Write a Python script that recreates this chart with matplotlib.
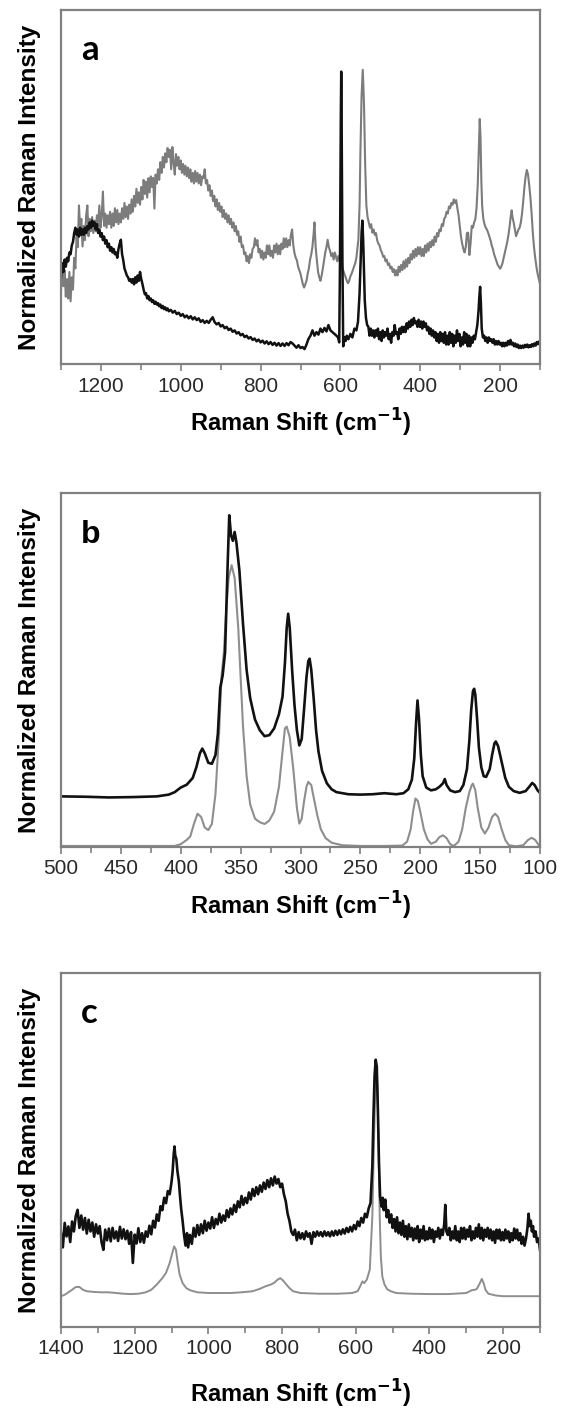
import numpy as np
import matplotlib
matplotlib.use("Agg")
import matplotlib.pyplot as plt
from matplotlib.ticker import MultipleLocator

plt.rcParams['font.family'] = ['Liberation Sans', 'DejaVu Sans']

# spectra as (raman shift, normalized intensity) pairs
# panel a - grey spectrum
a_grey = [(1300,20.6),(1297,28.0),(1294,22.0),(1291,26.5),(1288,19.0),(1285,24.0),(1282,18.5),(1279,26.0),(1276,17.7),(1273,24.5),
          (1270,21.0),(1267,30.0),(1264,27.0),(1261,36.0),(1258,33.0),(1255,44.8),(1252,38.0),(1249,41.0),(1246,33.2),(1243,39.0),
          (1240,35.0),(1237,42.0),(1234,44.8),(1231,36.1),(1228,41.0),(1225,37.5),(1222,41.5),(1219,37.0),(1216,40.5),(1213,37.5),
          (1210,42.0),(1207,39.0),(1204,44.8),(1201,38.5),(1198,42.0),(1195,48.7),(1192,39.0),(1189,42.5),(1186,38.5),(1183,42.0),
          (1180,39.5),(1177,43.0),(1174,38.5),(1171,42.5),(1168,39.0),(1165,44.0),(1162,40.0),(1159,43.5),(1156,39.5),(1153,42.5),
          (1150,40.0),(1147,44.0),(1144,41.0),(1141,45.5),(1138,41.5),(1135,44.5),(1132,41.0),(1129,45.0),(1126,42.5),(1123,46.5),
          (1120,43.0),(1117,47.5),(1114,44.5),(1111,49.5),(1108,45.5),(1105,48.5),(1102,45.0),(1099,50.0),(1096,46.5),(1093,52.0),
          (1090,48.0),(1087,51.5),(1084,47.0),(1081,52.5),(1078,48.5),(1075,53.0),(1072,50.0),(1069,52.6),(1066,43.9),(1063,53.5),
          (1060,51.0),(1057,55.0),(1054,52.0),(1051,57.0),(1048,54.0),(1045,58.5),(1042,55.5),(1039,59.5),(1036,57.0),(1033,61.0),
          (1030,58.5),(1027,60.5),(1024,55.0),(1021,61.3),(1018,57.0),(1015,53.5),(1012,59.3),(1009,56.0),(1006,58.5),(1003,55.0),
          (1000,57.5),(997,54.0),(994,56.5),(991,53.5),(988,56.0),(985,53.0),(982,55.5),(979,52.5),(976,55.0),(973,51.5),
          (970,54.0),(967,51.0),(964,54.5),(961,51.5),(958,54.0),(955,51.0),(952,53.5),(949,50.5),(946,53.0),(943,52.5),
          (940,55.0),(937,51.0),(934,52.0),(931,49.0),(928,50.5),(925,47.5),(922,49.0),(919,46.0),(916,47.5),(913,44.5),
          (910,46.5),(907,43.5),(904,45.5),(901,43.0),(898,44.5),(895,41.5),(892,43.5),(889,41.0),(886,42.5),(883,40.0),
          (880,42.0),(877,39.5),(874,41.0),(871,38.5),(868,40.0),(865,37.5),(862,39.0),(859,36.5),(856,37.5),(853,34.5),
          (850,36.0),(847,33.0),(844,33.5),(841,31.0),(838,31.5),(835,29.0),(832,30.5),(829,28.5),(826,31.0),(823,30.0),
          (820,32.5),(817,33.0),(814,35.5),(811,33.5),(808,35.0),(805,31.5),(802,32.5),(799,30.0),(796,32.0),(793,29.5),
          (790,31.5),(787,30.0),(784,33.5),(781,31.0),(778,33.5),(775,30.5),(772,32.0),(769,30.0),(766,33.5),(763,31.5),
          (760,34.0),(757,31.0),(754,33.5),(751,31.0),(748,34.0),(745,32.5),(742,35.5),(739,33.0),(736,35.5),(733,33.0),
          (730,35.0),(727,33.5),(724,36.5),(721,38.0),(718,33.5),(715,31.3),(712,30.0),(709,29.3),(706,27.5),(703,26.5),
          (700,25.5),(697,24.0),(694,22.5),(691,21.6),(688,22.5),(685,23.5),(682,25.5),(679,27.0),(676,29.5),(673,31.0),
          (670,33.2),(667,37.0),(665,40.0),(662,33.0),(659,29.3),(656,26.0),(653,24.5),(650,23.5),(647,25.0),(644,27.0),
          (641,29.3),(638,31.5),(635,33.0),(632,35.1),(629,33.0),(626,32.0),(623,30.5),(620,31.3),(617,29.5),(614,31.5),
          (611,30.3),(608,29.0),(605,30.5),(602,29.3),(599,28.0),(596,27.5),(593,26.4),(590,25.5),(587,24.5),(584,23.5),
          (581,22.8),(578,23.5),(575,24.8),(572,25.5),(569,26.5),(566,27.5),(563,28.4),(560,30.0),(557,33.0),(555,35.1),
          (552,45.0),(550,59.3),(547,75.8),(544,83.1),(541,73.9),(538,56.4),(535,44.8),(532,41.5),(529,40.0),(526,38.5),
          (523,39.5),(520,37.1),(517,38.0),(514,36.5),(511,37.0),(508,35.0),(505,34.0),(502,33.5),(499,32.2),(496,31.5),
          (493,30.3),(490,30.5),(487,29.0),(484,29.5),(481,28.0),(478,28.4),(475,27.0),(472,27.5),(469,26.0),(466,26.8),
          (463,25.0),(460,26.5),(457,25.0),(454,27.5),(451,26.0),(448,28.0),(445,26.5),(442,29.0),(439,27.0),(436,29.5),
          (433,27.5),(430,30.0),(427,28.5),(424,31.0),(421,29.5),(418,32.0),(415,30.0),(412,32.5),(409,30.5),(406,33.0),
          (403,31.0),(400,33.0),(397,30.5),(394,32.5),(391,30.5),(388,33.5),(385,31.5),(382,34.0),(379,32.0),(376,34.5),
          (373,33.0),(370,35.0),(367,33.5),(364,36.0),(361,34.5),(358,37.0),(355,36.0),(352,38.0),(349,37.5),(346,39.5),
          (343,39.0),(340,41.0),(337,41.5),(334,43.0),(331,42.5),(328,44.5),(325,44.0),(322,45.5),(319,45.0),(316,46.5),
          (313,45.5),(310,46.3),(307,44.0),(304,42.0),(301,39.0),(298,36.0),(295,34.0),(292,32.5),(289,31.5),(286,33.0),
          (283,37.0),(280,37.1),(277,30.8),(274,34.0),(271,39.0),(268,38.5),(265,40.0),(262,40.9),(259,44.0),(256,50.6),
          (253,62.0),(251,69.2),(249,64.0),(247,52.0),(245,44.8),(242,41.0),(239,39.5),(236,38.5),(233,38.0),(230,37.1),
          (227,36.0),(224,35.0),(221,33.5),(218,32.5),(215,31.0),(212,30.0),(209,29.0),(206,28.0),(203,27.5),(200,26.9),
          (197,27.5),(194,28.5),(191,30.0),(188,31.5),(185,33.0),(182,34.5),(179,36.5),(176,39.0),(173,42.0),(171,43.4),
          (169,41.5),(166,40.0),(163,38.0),(160,36.1),(157,37.0),(154,38.0),(151,38.5),(148,40.0),(145,42.5),(142,46.0),
          (139,50.0),(136,53.0),(133,54.8),(130,53.5),(127,50.5),(124,47.0),(121,42.5),(118,37.1),(115,33.0),(112,30.0),
          (109,27.5),(106,25.5),(103,24.0),(100,22.6)]

# panel a - black spectrum
a_black = [(1300,24.5),(1297,28.5),(1294,26.0),(1291,29.5),(1288,27.5),(1285,30.0),(1282,29.0),(1279,31.5),(1276,31.0),(1273,33.5),
           (1270,34.5),(1267,37.0),(1264,38.5),(1261,36.5),(1258,38.0),(1255,36.0),(1252,38.5),(1249,36.5),(1246,38.0),(1243,36.5),
           (1240,38.5),(1237,37.0),(1234,39.0),(1231,38.0),(1228,40.0),(1225,38.5),(1222,40.5),(1219,39.0),(1216,40.0),(1213,38.0),
           (1210,39.5),(1207,37.0),(1204,38.0),(1201,36.0),(1198,37.0),(1195,35.0),(1192,36.0),(1189,34.0),(1186,35.0),(1183,33.0),
           (1180,34.0),(1177,32.0),(1174,33.0),(1171,31.5),(1168,32.5),(1165,31.0),(1162,31.5),(1159,30.0),(1156,32.5),(1153,34.0),
           (1150,35.1),(1147,31.0),(1144,29.3),(1141,27.0),(1138,26.0),(1135,25.0),(1132,24.5),(1129,23.5),(1126,24.0),(1123,23.0),
           (1120,24.0),(1117,22.5),(1114,24.5),(1111,23.0),(1108,25.0),(1105,23.5),(1102,26.0),(1099,24.0),(1096,22.6),(1093,21.0),
           (1090,19.7),(1087,20.0),(1084,18.5),(1081,19.2),(1078,18.0),(1075,18.5),(1072,17.5),(1069,18.0),(1066,17.0),(1063,17.6),
           (1060,16.8),(1057,17.2),(1054,16.3),(1051,16.8),(1048,15.8),(1045,16.4),(1042,15.5),(1039,16.0),(1036,15.2),(1033,15.7),
           (1030,14.9),(1025,15.3),(1020,14.5),(1015,15.0),(1010,14.1),(1005,14.5),(1000,13.6),(995,14.1),(990,13.2),(985,13.7),
           (980,12.9),(975,13.5),(970,12.6),(965,13.2),(960,12.4),(955,12.9),(950,11.9),(945,12.4),(940,11.6),(935,12.2),
           (930,11.6),(925,12.5),(920,13.2),(915,11.8),(910,11.2),(905,11.6),(900,10.6),(895,11.0),(890,10.1),(885,10.5),
           (880,9.6),(875,10.0),(870,9.1),(865,9.5),(860,8.6),(855,9.0),(850,8.1),(845,8.5),(840,7.6),(835,8.0),
           (830,7.2),(825,7.6),(820,6.8),(815,7.2),(810,6.4),(805,6.9),(800,6.1),(795,6.6),(790,5.8),(785,6.4),
           (780,5.6),(775,6.2),(770,5.4),(765,6.0),(760,5.2),(755,5.9),(750,5.1),(745,5.8),(740,5.1),(735,5.9),
           (730,5.3),(725,6.2),(720,5.8),(715,5.2),(710,4.6),(705,5.3),(700,4.5),(695,4.8),(690,4.2),(685,5.5),
           (680,7.1),(675,8.0),(670,9.5),(665,8.0),(660,9.0),(655,8.3),(650,10.0),(645,9.0),(640,10.2),(635,9.2),
           (630,11.0),(625,9.5),(620,9.0),(615,8.5),(610,8.0),(606,7.5),(603,6.1),(601,30.0),(599,70.0),(598,82.6),
           (597,70.0),(595,30.0),(593,5.0),(590,7.5),(587,6.5),(584,8.0),(580,7.0),(575,8.5),(570,7.5),(565,10.0),
           (560,9.5),(556,11.9),(552,20.0),(549,30.0),(547,37.1),(545,40.5),(543,35.0),(541,27.0),(539,18.0),(536,13.0),
           (533,11.0),(530,10.5),(527,8.0),(524,10.0),(521,8.0),(518,9.5),(515,7.5),(512,9.5),(509,8.0),(506,10.0),
           (503,7.0),(500,9.0),(497,6.5),(494,9.5),(491,7.5),(488,9.0),(485,8.0),(482,10.0),(479,7.0),(476,8.5),
           (473,6.0),(470,9.0),(467,8.0),(464,11.0),(461,8.5),(458,9.0),(455,7.0),(452,10.0),(449,8.5),(446,10.5),
           (443,9.0),(440,10.5),(437,9.0),(434,11.5),(431,10.0),(428,12.0),(425,10.5),(422,12.5),(419,11.0),(416,13.0),
           (413,11.5),(410,12.0),(407,10.5),(404,12.5),(401,10.5),(398,12.0),(395,10.0),(392,12.0),(389,10.5),(386,11.5),
           (383,9.5),(380,10.5),(377,8.5),(374,10.0),(371,8.0),(368,9.5),(365,7.5),(362,9.0),(359,6.5),(356,8.5),
           (353,6.0),(350,9.0),(347,6.5),(344,8.5),(341,6.0),(338,9.0),(335,5.5),(332,8.0),(329,5.5),(326,9.0),
           (323,6.0),(320,8.5),(317,5.0),(314,8.0),(311,6.0),(308,9.5),(305,6.5),(302,8.5),(299,5.0),(296,7.5),
           (293,5.5),(290,9.0),(287,6.0),(284,8.5),(281,5.0),(278,8.0),(275,5.0),(272,7.5),(269,6.0),(266,8.0),
           (263,7.0),(260,9.0),(257,11.0),(254,15.0),(252,19.0),(250,21.8),(248,17.0),(246,10.0),(243,7.5),(240,8.0),
           (237,6.5),(234,7.5),(231,6.0),(228,7.5),(225,6.5),(222,7.0),(219,6.0),(216,7.0),(213,5.5),(210,6.5),
           (207,5.5),(204,6.5),(201,5.5),(198,6.0),(195,5.0),(192,6.0),(189,5.0),(186,6.0),(183,5.2),(180,6.5),
           (177,5.5),(174,6.8),(171,5.5),(168,6.0),(165,5.0),(162,5.8),(159,4.8),(156,5.5),(153,4.5),(150,5.2),
           (147,4.5),(144,5.2),(141,4.6),(138,5.4),(135,4.8),(132,5.5),(129,4.7),(126,5.3),(123,4.8),(120,5.6),
           (117,5.0),(114,5.8),(111,5.2),(108,6.2),(105,5.6),(102,6.4),(100,6.3)]

# panel b - black spectrum
b_black = [(500,14.3),(480,14.2),(460,14.0),(440,14.1),(420,14.3),(410,14.8),(405,15.5),(400,16.8),(395,17.6),(390,19.5),
           (387,22.5),(384,26.5),(382,27.8),(380,26.5),(377,23.8),(374,23.5),(371,26.0),(369,32.0),(367,45.0),(365,48.5),
           (363,55.0),(361,78.0),(359.5,93.7),(358,88.0),(356.5,86.5),(355,89.0),(353.5,86.0),(351,78.0),(348,63.0),(345,50.0),
           (342,42.0),(338,36.0),(334,33.0),(330,31.3),(326,31.6),(322,33.5),(318,37.5),(315,42.5),(313,52.0),(311.5,62.0),
           (310.3,65.9),(309,62.0),(307,50.0),(305,40.0),(303,33.0),(301,28.7),(299,30.5),(297,39.0),(295,48.0),(293.5,52.5),
           (292.4,53.2),(291,50.0),(289,42.0),(287,33.0),(285,27.0),(282,21.5),(278,18.0),(274,16.3),(270,15.5),(260,14.9),
           (250,14.8),(240,14.9),(230,15.2),(220,14.9),(214,15.2),(210,16.3),(207,19.0),(205,25.0),(203.5,35.0),(202.3,41.4),
           (201,36.0),(199.5,26.0),(198,20.0),(195,16.8),(191,16.0),(187,16.3),(184,17.0),(181,18.0),(179.5,19.2),(178,17.5),
           (175,16.0),(171,15.5),(167,15.8),(164,17.5),(161,22.0),(159,30.0),(157.5,38.5),(156,44.0),(155,44.7),(154,43.0),
           (152.5,36.0),(151,28.0),(149,22.5),(147,20.0),(145,19.8),(142,22.0),(140,26.0),(138,29.3),(136.9,29.8),(135,28.5),
           (132,24.0),(129,19.5),(126,17.0),(122,15.8),(117,15.3),(112,15.8),(109,17.0),(106.5,18.1),(104.5,17.5),(102,16.0),
           (100,15.3)]

# panel b - grey spectrum
b_grey = [(500,0.3),(450,0.3),(405,0.3),(400,0.8),(395,2.0),(392,3.0),(389,6.5),(386,9.4),(383,8.5),(380,5.5),
          (377,4.8),(374,6.5),(371,15.0),(368,32.0),(366,48.0),(364,55.0),(362,67.0),(360,76.0),(357.5,79.6),(355,76.0),
          (352,62.0),(350,48.0),(348,34.0),(345,20.0),(342,12.0),(338,8.0),(334,7.0),(330,6.5),(326,7.5),(322,10.0),
          (318,17.0),(315,27.0),(313,33.5),(311.5,34.0),(309,31.0),(306,22.0),(303,11.0),(301,6.6),(299,8.0),(297,13.0),
          (295,17.0),(293.5,18.4),(291,17.5),(289,14.0),(286,9.0),(283,5.0),(279,2.5),(274,1.2),(265,0.5),(250,0.3),
          (230,0.3),(215,0.4),(211,1.5),(208,5.0),(206,10.0),(204,13.7),(202,13.0),(200,10.0),(197,5.0),(194,2.2),
          (191,0.9),(187,1.5),(184,2.8),(181,3.3),(178,2.5),(175,0.8),(172,0.3),(168,1.5),(165,5.0),(162,11.0),
          (159,15.5),(157,17.5),(156,17.9),(154,16.0),(152,11.0),(149,5.5),(146,3.8),(143,5.5),(140,8.5),(137.5,9.4),
          (135,8.5),(132,5.0),(129,2.0),(126,0.5),(120,0.2),(114,0.5),(110,2.0),(107,2.6),(104,2.0),(101,0.5),
          (100,0.3)]

# panel c - black spectrum
c_black = [(1400,26.6),(1395,22.5),(1390,29.4),(1385,25.6),(1380,28.4),(1375,24.0),(1370,29.8),(1365,27.0),(1360,31.3),(1355,33.1),
           (1350,28.0),(1345,31.5),(1340,27.5),(1335,30.8),(1330,26.4),(1325,30.3),(1320,27.0),(1315,29.5),(1310,25.5),(1305,29.0),
           (1300,26.4),(1295,28.5),(1290,24.0),(1285,21.8),(1280,27.5),(1275,24.5),(1270,27.8),(1265,24.2),(1260,28.0),(1255,25.0),
           (1250,27.0),(1245,24.3),(1240,28.3),(1235,25.0),(1230,27.6),(1225,24.8),(1220,27.2),(1215,23.5),(1210,26.8),(1205,18.1),
           (1200,26.1),(1195,23.6),(1190,27.9),(1185,24.0),(1180,26.5),(1175,23.8),(1170,27.0),(1165,25.5),(1160,28.6),(1155,26.2),
           (1150,30.0),(1145,28.1),(1140,31.8),(1135,30.0),(1130,34.1),(1125,33.0),(1120,36.5),(1115,35.0),(1110,38.4),(1105,37.5),
           (1100,41.0),(1097,44.0),(1094,49.0),(1092,51.0),(1090,48.5),(1087,47.5),(1084,44.0),(1080,41.0),(1077,37.0),(1074,33.5),
           (1070,30.0),(1066,26.0),(1062,23.0),(1058,26.5),(1055,22.5),(1050,26.0),(1045,23.5),(1040,28.0),(1035,25.5),(1030,28.8),
           (1025,26.0),(1020,29.0),(1015,26.5),(1010,30.0),(1005,27.2),(1000,29.5),(995,27.8),(990,31.0),(985,28.0),(980,30.5),
           (975,29.0),(970,32.0),(965,29.5),(960,31.5),(955,30.0),(950,33.0),(945,31.0),(940,33.5),(935,31.8),(930,34.5),
           (925,32.5),(920,35.5),(915,33.8),(910,37.0),(905,34.5),(900,36.5),(895,35.0),(890,38.0),(885,36.0),(880,39.0),
           (875,37.0),(870,39.5),(865,37.5),(860,40.0),(855,38.2),(850,40.8),(845,39.0),(840,41.5),(835,39.5),(830,42.0),
           (825,40.0),(820,42.5),(815,40.5),(810,41.8),(805,39.5),(800,40.5),(795,37.5),(790,35.5),(785,32.0),(780,30.0),
           (775,27.0),(770,26.0),(765,27.5),(760,24.5),(755,26.8),(750,25.0),(745,26.5),(740,24.8),(735,27.0),(730,25.5),
           (725,26.5),(720,23.5),(715,26.8),(710,25.5),(705,27.0),(700,25.8),(695,26.8),(690,25.6),(685,27.0),(680,25.8),
           (675,26.8),(670,25.6),(665,27.0),(660,25.8),(655,27.2),(650,26.0),(645,27.3),(640,26.2),(635,27.6),(630,26.4),
           (625,28.0),(620,26.8),(615,28.3),(610,27.0),(605,28.8),(600,27.6),(595,29.8),(590,28.5),(585,30.8),(580,29.5),
           (575,32.0),(570,31.0),(565,33.5),(560,35.0),(555,45.4),(552,59.5),(549,70.8),(546,75.5),(543,73.6),(540,61.4),
           (537,46.3),(534,36.9),(530,34.0),(527,36.5),(524,33.0),(520,36.0),(516,31.0),(512,33.0),(508,29.5),(504,31.8),
           (500,28.0),(496,30.5),(492,27.0),(488,31.0),(484,26.5),(480,29.5),(476,26.0),(472,30.0),(468,25.5),(464,28.5),
           (460,24.8),(456,29.0),(452,25.5),(448,28.0),(444,24.5),(440,27.8),(436,25.0),(432,28.5),(428,24.0),(424,27.5),
           (420,25.0),(416,28.5),(412,24.5),(408,27.0),(404,24.8),(400,28.0),(396,25.0),(392,27.5),(388,24.0),(384,27.0),
           (380,25.5),(376,28.0),(372,25.0),(368,27.5),(364,26.0),(360,29.0),(357,34.5),(354,27.0),(350,26.0),(346,28.0),
           (342,24.5),(338,27.0),(334,25.0),(330,28.5),(326,24.5),(322,27.0),(318,24.0),(314,28.0),(310,25.0),(306,28.0),
           (302,24.8),(298,27.5),(294,25.5),(290,28.5),(286,24.5),(282,27.0),(278,25.0),(274,28.0),(270,25.5),(266,29.0),
           (262,25.0),(258,28.0),(254,24.5),(250,27.5),(246,25.5),(242,28.0),(238,25.0),(234,27.5),(230,24.5),(226,27.0),
           (222,23.8),(218,27.5),(214,25.0),(210,27.5),(206,24.5),(202,26.8),(198,24.5),(194,27.5),(190,25.0),(186,27.0),
           (182,24.0),(178,26.5),(174,24.5),(170,27.8),(166,25.0),(162,27.5),(158,24.5),(154,26.5),(150,23.5),(146,25.5),
           (142,23.0),(138,25.0),(134,28.0),(131,32.0),(128,28.5),(125,30.0),(122,27.0),(119,28.5),(116,25.5),(112,27.0),
           (108,24.0),(104,25.0),(100,21.8)]

# panel c - grey spectrum
c_grey = [(1400,8.7),(1390,9.1),(1380,9.8),(1370,10.5),(1360,11.3),(1350,11.3),(1340,10.5),(1330,10.1),(1310,9.9),(1290,9.8),
          (1270,9.8),(1250,9.6),(1230,9.4),(1210,9.3),(1190,9.4),(1170,9.8),(1155,10.5),(1140,12.0),(1125,13.8),(1115,15.3),
          (1105,18.1),(1098,20.9),(1093,22.8),(1088,21.8),(1083,18.1),(1078,14.8),(1070,12.4),(1060,11.0),(1050,10.4),(1030,9.8),
          (1000,9.6),(970,9.6),(940,9.6),(910,9.8),(880,10.1),(860,10.8),(845,11.5),(830,12.0),(820,12.6),(812,13.4),
          (805,13.8),(798,13.2),(790,12.2),(780,11.0),(770,10.1),(750,9.6),(700,9.4),(650,9.4),(610,9.6),(595,10.1),
          (588,11.5),(582,12.9),(577,12.4),(570,13.4),(562,16.2),(555,31.3),(550,54.8),(546,70.8),(543,72.0),(541,67.0),
          (538,50.1),(535,31.3),(532,20.0),(528,14.3),(522,12.0),(515,10.7),(505,10.1),(490,9.6),(450,9.4),(400,9.3),
          (350,9.3),(300,9.6),(285,10.4),(278,10.5),(272,10.7),(265,12.0),(258,13.6),(253,12.4),(248,10.5),(240,9.4),
          (220,8.9),(200,8.7),(150,8.7),(100,8.7)]

xlabel = "Raman Shift (cm$^{\\mathbf{-1}}$)"
ylabel = "Normalized Raman Intensity"

grey_a = "#7c7c7c"
grey_bc = "#8e8e8e"
black = "#111111"
spine = "#808080"


def draw(ax, pts, color, lw):
    x, y = np.array(pts).T
    ax.plot(x, y, color=color, lw=lw)


def style(ax, xmax, xmin, major, minor, letter, letter_font, letter_size, xpad):
    ax.set_xlim(xmax, xmin)
    ax.set_ylim(0, 100)
    ax.xaxis.set_major_locator(MultipleLocator(major))
    ax.xaxis.set_minor_locator(MultipleLocator(minor))
    ax.set_yticks([])
    ax.tick_params(axis="x", which="both", direction="out", color=spine, width=1.2,
                   labelsize=15, labelcolor="#2a2a2a", pad=4)
    ax.tick_params(axis="x", which="major", length=5)
    ax.tick_params(axis="x", which="minor", length=4)
    for s in ax.spines.values():
        s.set_color(spine)
        s.set_linewidth(1.6)
    ax.set_xlabel(xlabel, fontsize=17, fontweight="bold", labelpad=xpad)
    ax.set_ylabel(ylabel, fontsize=17.5, fontweight="bold")
    ax.yaxis.set_label_coords(-0.042, 0.5)
    ax.text(0.042, 0.859, letter, transform=ax.transAxes, fontsize=letter_size,
            fontweight="bold", family=letter_font, va="baseline", ha="left")


fig = plt.figure(figsize=(5.65, 14.09), dpi=100)
W, H = 565.0, 1409.0
left, width = 61 / W, 479 / W

ax_a = fig.add_axes([left, 1 - 364 / H, width, 354 / H])
ax_b = fig.add_axes([left, 1 - 847 / H, width, 354 / H])
ax_c = fig.add_axes([left, 1 - 1327 / H, width, 354 / H])

draw(ax_a, a_grey, grey_a, 1.5)
draw(ax_a, a_black, black, 1.8)
style(ax_a, 1300, 100, 200, 100, "a", ["Lato", "DejaVu Sans"], 25, 8)

draw(ax_b, b_grey, grey_bc, 1.5)
draw(ax_b, b_black, black, 1.9)
style(ax_b, 500, 100, 50, 25, "b", ["Liberation Sans"], 23, 8)

draw(ax_c, c_grey, grey_bc, 1.4)
draw(ax_c, c_black, black, 1.9)
style(ax_c, 1400, 100, 200, 100, "c", ["Lato", "DejaVu Sans"], 25, 14)

fig.savefig("out.png", dpi=100)
